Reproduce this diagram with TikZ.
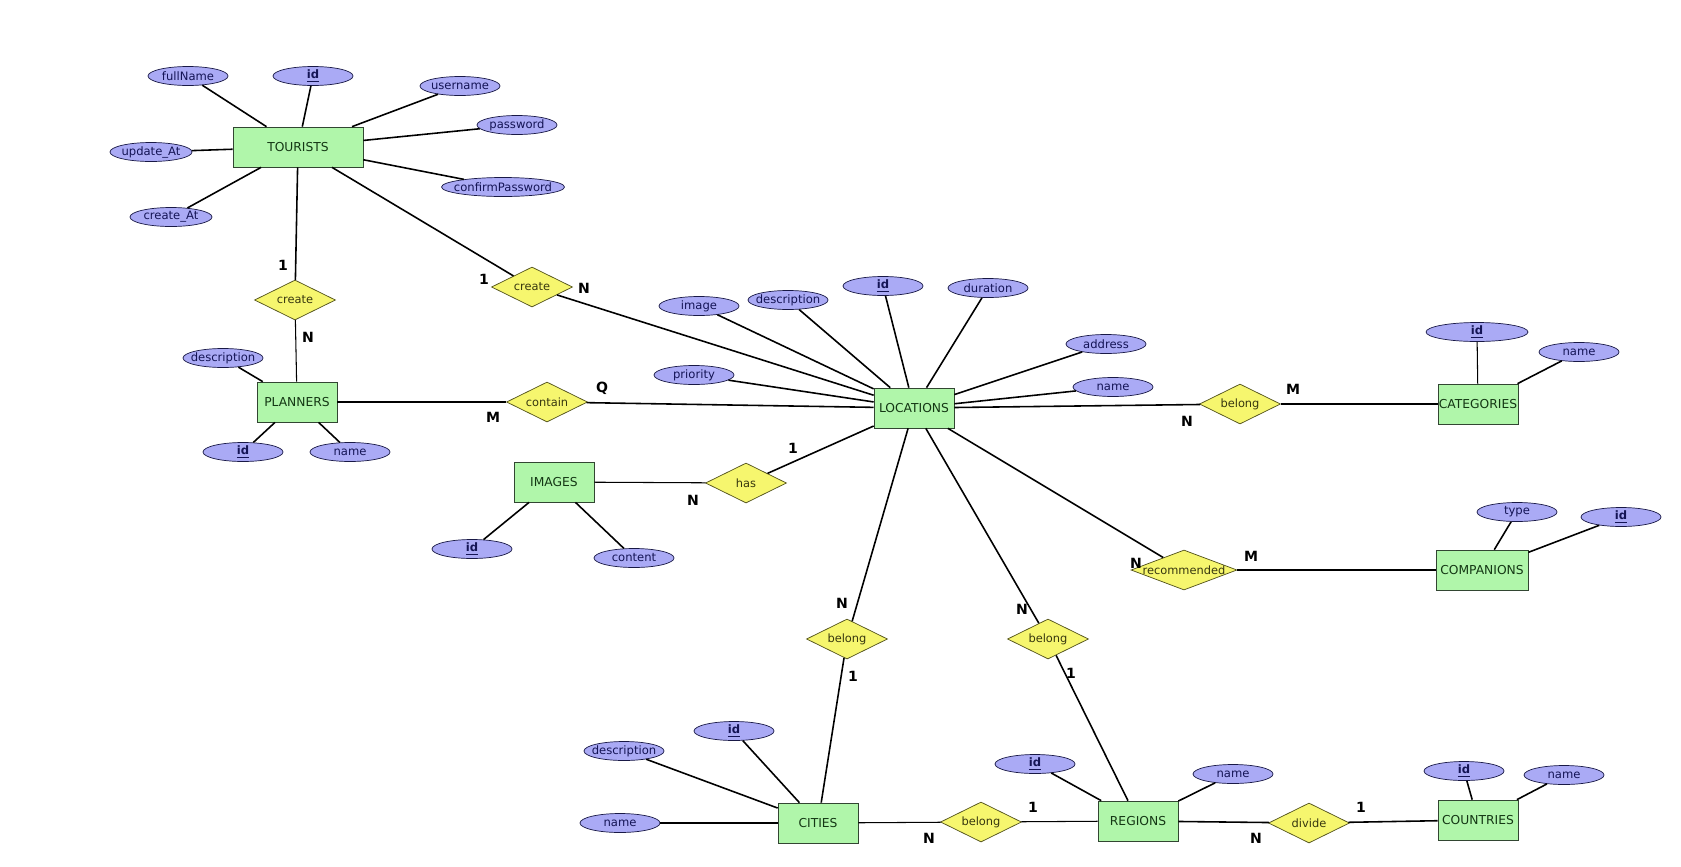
\documentclass[tikz,border=0pt]{standalone}
\usepackage{fontspec}
\setmainfont{DejaVu Sans}
\usepackage{tikz}
\usetikzlibrary{shapes.geometric}

\definecolor{entfill}{RGB}{176,246,170}
\definecolor{entline}{RGB}{50,70,50}
\definecolor{enttext}{RGB}{20,55,20}
\definecolor{attfill}{RGB}{170,170,245}
\definecolor{attline}{RGB}{25,25,70}
\definecolor{atttext}{RGB}{20,20,85}
\definecolor{relfill}{RGB}{246,246,110}
\definecolor{relline}{RGB}{80,80,25}
\definecolor{reltext}{RGB}{55,55,15}

\begin{document}
\begin{tikzpicture}[x=0.02cm, y=-0.02cm,
	ent/.style={rectangle, draw=entline, fill=entfill, text=enttext, minimum width=1.6cm, minimum height=0.8cm, inner sep=0pt, font=\fontsize{7}{8}\selectfont},
	att/.style={ellipse, draw=attline, fill=attfill, text=atttext, minimum width=1.6cm, minimum height=0.38cm, inner sep=-1cm, font=\fontsize{6.6}{7}\selectfont},
	rel/.style={diamond, draw=relline, fill=relfill, text=reltext, minimum width=1.62cm, minimum height=0.8cm, inner sep=-1cm, font=\fontsize{6.5}{7}\selectfont},
	card/.style={inner sep=0pt, font=\bfseries\fontsize{8}{9}\selectfont},
	ln/.style={line width=0.9pt},
	rl/.style={line width=0.6pt}]
		\fill[white] (0,0) rectangle (1681,866);
		% entities
		\node (e1) [ent, minimum width=2.6cm] at (298,147) {TOURISTS};
		\node (e2) [ent] at (297,402) {PLANNERS};
		\node (e3) [ent] at (914,408) {LOCATIONS};
		\node (e4) [ent] at (554,482) {IMAGES};
		\node (e5) [ent] at (1478,404) {CATEGORIES};
		\node (e6) [ent, minimum width=1.84cm] at (1482,570) {COMPANIONS};
		\node (e7) [ent] at (818,823) {CITIES};
		\node (e8) [ent] at (1138,821) {REGIONS};
		\node (e9) [ent] at (1478,820) {COUNTRIES};
		% relations
		\node (r1) [rel] at (295,300) {create};
		\node (r2) [rel] at (532,287) {create};
		\node (r3) [rel] at (547,402) {contain};
		\node (r4) [rel] at (746,483) {has};
		\node (r5) [rel] at (1240,404) {belong};
		\node (r6) [rel, minimum width=2.12cm] at (1184,570) {recommended};
		\node (r7) [rel] at (847,639) {belong};
		\node (r8) [rel] at (1048,639) {belong};
		\node (r9) [rel] at (981,822) {belong};
		\node (r10) [rel] at (1309,823) {divide};
		% attributes
		\node (a1) [att] at (188,76) {fullName};
		\node (a2) [att] at (313,76) {\underline{\textbf{id}}};
		\node (a3) [att] at (460,86) {username};
		\node (a4) [att] at (517,125) {password};
		\node (a5) [att, minimum width=1.64cm] at (151,152) {update\_At};
		\node (a6) [att, minimum width=2.46cm] at (503,187) {confirmPassword};
		\node (a7) [att, minimum width=1.64cm] at (171,217) {create\_At};
		\node (a8) [att] at (223,358) {description};
		\node (a9) [att] at (243,452) {\underline{\textbf{id}}};
		\node (a10) [att] at (350,452) {name};
		\node (a11) [att] at (699,306) {image};
		\node (a12) [att] at (788,300) {description};
		\node (a13) [att] at (883,286) {\underline{\textbf{id}}};
		\node (a14) [att] at (988,288) {duration};
		\node (a15) [att] at (694,375) {priority};
		\node (a16) [att] at (1106,344) {address};
		\node (a17) [att] at (1113,387) {name};
		\node (a18) [att] at (472,549) {\underline{\textbf{id}}};
		\node (a19) [att] at (634,558) {content};
		\node (a20) [att, minimum width=2.04cm] at (1477,332) {\underline{\textbf{id}}};
		\node (a21) [att] at (1579,352) {name};
		\node (a22) [att] at (1517,512) {type};
		\node (a23) [att] at (1621,517) {\underline{\textbf{id}}};
		\node (a24) [att] at (624,751) {description};
		\node (a25) [att] at (734,731) {\underline{\textbf{id}}};
		\node (a26) [att] at (620,823) {name};
		\node (a27) [att] at (1035,764) {\underline{\textbf{id}}};
		\node (a28) [att] at (1233,774) {name};
		\node (a29) [att] at (1464,771) {\underline{\textbf{id}}};
		\node (a30) [att] at (1564,775) {name};
		% attribute links
		\draw[ln] (a1) -- (e1);
		\draw[ln] (a2) -- (e1);
		\draw[ln] (a3) -- (e1);
		\draw[ln] (a4) -- (e1);
		\draw[ln] (a5) -- (e1);
		\draw[ln] (a6) -- (e1);
		\draw[ln] (a7) -- (e1);
		\draw[ln] (a8) -- (e2);
		\draw[ln] (a9) -- (e2);
		\draw[ln] (a10) -- (e2);
		\draw[ln] (a11) -- (e3);
		\draw[ln] (a12) -- (e3);
		\draw[ln] (a13) -- (e3);
		\draw[ln] (a14) -- (e3);
		\draw[ln] (a15) -- (e3);
		\draw[ln] (a16) -- (e3);
		\draw[ln] (a17) -- (e3);
		\draw[ln] (a18) -- (e4);
		\draw[ln] (a19) -- (e4);
		\draw[rl] (a20) -- (e5);
		\draw[ln] (a21) -- (e5);
		\draw[ln] (a22) -- (e6);
		\draw[ln] (a23) -- (e6);
		\draw[ln] (a24) -- (e7);
		\draw[ln] (a25) -- (e7);
		\draw[rl] (a26) -- (e7);
		\draw[ln] (a27) -- (e8);
		\draw[ln] (a28) -- (e8);
		\draw[ln] (a29) -- (e9);
		\draw[ln] (a30) -- (e9);
		% relation links
		\draw[ln] (e1) -- (r1);
		\draw[rl] (r1) -- (e2);
		\draw[ln] (e1) -- (r2);
		\draw[ln] (r2) -- (e3);
		\draw[rl] (e2) -- (r3);
		\draw[ln] (r3) -- (e3);
		\draw[rl] (e4) -- (r4);
		\draw[ln] (r4) -- (e3);
		\draw[ln] (e3) -- (r5);
		\draw[rl] (r5) -- (e5);
		\draw[ln] (e3) -- (r6);
		\draw[rl] (r6) -- (e6);
		\draw[ln] (e3) -- (r7);
		\draw[ln] (r7) -- (e7);
		\draw[ln] (e3) -- (r8);
		\draw[ln] (r8) -- (e8);
		\draw[rl] (e7) -- (r9);
		\draw[rl] (r9) -- (e8);
		\draw[ln] (e8) -- (r10);
		\draw[ln] (r10) -- (e9);
		% cardinalities
		\node (c1) [card] at (283,265) {1};
		\node (c2) [card] at (308,337) {N};
		\node (c3) [card] at (484,279) {1};
		\node (c4) [card] at (584,288) {N};
		\node (c5) [card] at (493,417) {M};
		\node (c6) [card] at (602,388) {Q};
		\node (c7) [card] at (1187,421) {N};
		\node (c8) [card] at (1293,389) {M};
		\node (c9) [card] at (793,448) {1};
		\node (c10) [card] at (693,500) {N};
		\node (c11) [card] at (1136,563) {N};
		\node (c12) [card] at (1251,556) {M};
		\node (c13) [card] at (842,603) {N};
		\node (c14) [card] at (853,676) {1};
		\node (c15) [card] at (1022,609) {N};
		\node (c16) [card] at (1071,673) {1};
		\node (c17) [card] at (929,838) {N};
		\node (c18) [card] at (1033,807) {1};
		\node (c19) [card] at (1256,838) {N};
		\node (c20) [card] at (1361,807) {1};
\end{tikzpicture}
\end{document}
